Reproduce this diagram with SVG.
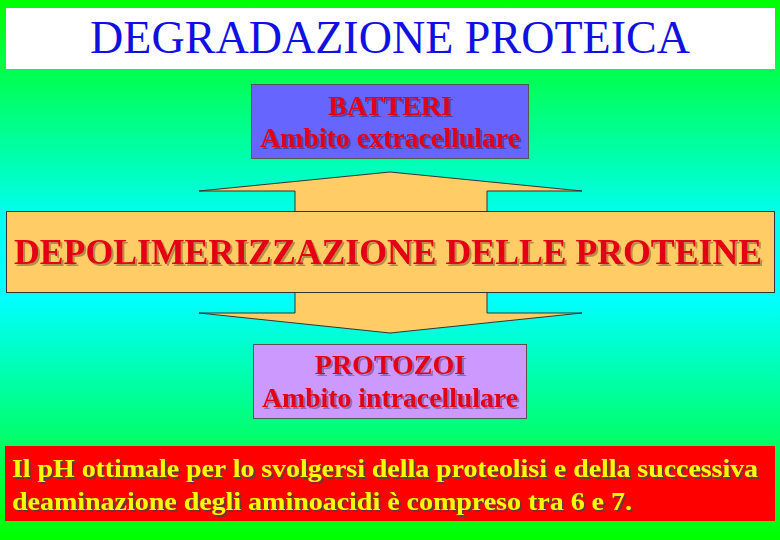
<svg xmlns="http://www.w3.org/2000/svg" width="780" height="540" viewBox="0 0 780 540">
<defs>
<linearGradient id="bg" x1="0" y1="0" x2="0" y2="1">
<stop offset="0" stop-color="#00ff00"/>
<stop offset="0.4" stop-color="#00ffee"/>
<stop offset="0.55" stop-color="#00ffff"/>
<stop offset="1" stop-color="#00ff00"/>
</linearGradient>
<filter id="shadow" x="-5%" y="-20%" width="110%" height="140%">
<feDropShadow dx="2" dy="2" stdDeviation="0.4" flood-color="#000" flood-opacity="0.3"/>
</filter>
<filter id="shadowDark" x="-5%" y="-20%" width="110%" height="140%">
<feDropShadow dx="2" dy="2" stdDeviation="0.4" flood-color="#444" flood-opacity="0.8"/>
</filter>
</defs>
<style>
.serif{font-family:"Liberation Serif","Times New Roman",serif;}
.b{font-weight:bold;}
.red{fill:#e30613;filter:url(#shadow);}
.yel{fill:#ffff00;filter:url(#shadowDark);}
.box{stroke:#555;stroke-width:1;}
</style>
<rect width="780" height="540" fill="url(#bg)"/>
<g id="connectors">
<polygon points="390,172 582,191 487,191 487,313 582,313 390,333 199,313 295,313 295,191 199,191" fill="#ffcc66" stroke="#333" stroke-width="1"/>
</g>
<g id="title">
<rect x="6" y="8" width="769" height="61" fill="#ffffff"/>
<text class="serif" x="390" y="53" font-size="46" text-anchor="middle" fill="#1010e0" textLength="600" lengthAdjust="spacingAndGlyphs">DEGRADAZIONE PROTEICA</text>
</g>
<g id="batteri">
<rect class="box" x="251.5" y="84.5" width="277" height="74" fill="#6666ff"/>
<g class="serif b" font-size="28" text-anchor="middle">
<text class="red" x="390" y="115">BATTERI</text>
<text class="red" x="390" y="147" textLength="260" lengthAdjust="spacingAndGlyphs">Ambito extracellulare</text>
</g>
</g>
<g id="depolimerizzazione">
<rect x="6.5" y="211.5" width="768" height="81" fill="#ffcc66" stroke="#333" stroke-width="1"/>
<text class="serif b red" font-size="36" x="14" y="264" textLength="748" lengthAdjust="spacingAndGlyphs">DEPOLIMERIZZAZIONE DELLE PROTEINE</text>
</g>
<g id="protozoi">
<rect class="box" x="253.5" y="344.5" width="273" height="74" fill="#cc99ff"/>
<g class="serif b" font-size="28" text-anchor="middle">
<text class="red" x="390" y="374">PROTOZOI</text>
<text class="red" x="390" y="407" textLength="256" lengthAdjust="spacingAndGlyphs">Ambito intracellulare</text>
</g>
</g>
<g id="nota">
<rect x="5" y="446" width="770" height="75" fill="#ff0000"/>
<g class="serif b" font-size="26">
<text class="yel" x="12" y="477" textLength="746" lengthAdjust="spacingAndGlyphs">Il pH ottimale per lo svolgersi della proteolisi e della successiva</text>
<text class="yel" x="12" y="510" textLength="620" lengthAdjust="spacingAndGlyphs">deaminazione degli aminoacidi è compreso tra 6 e 7.</text>
</g>
</g>
</svg>
